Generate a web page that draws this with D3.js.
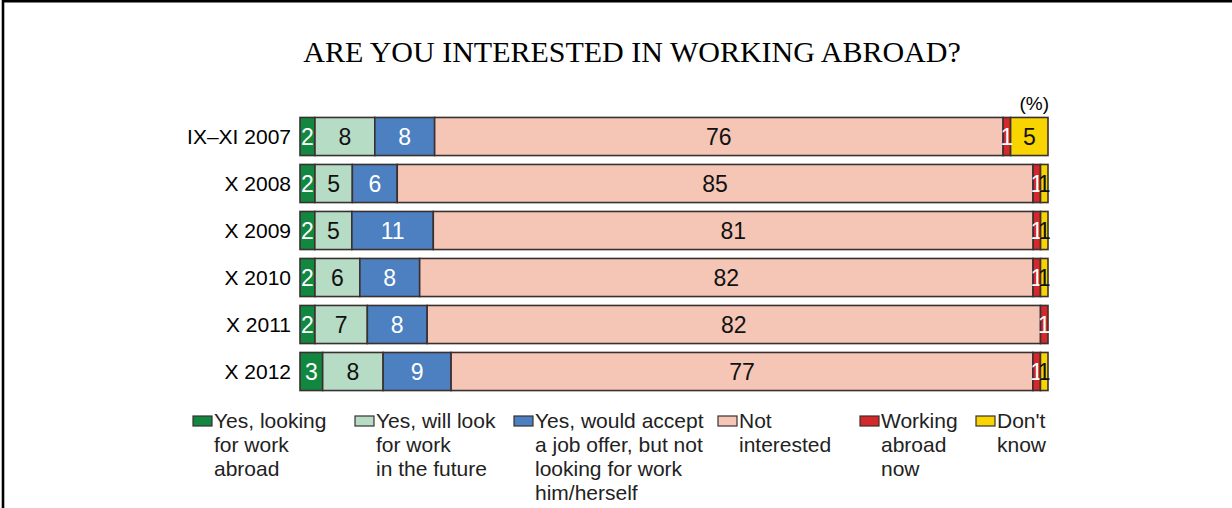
<!DOCTYPE html>
<html>
<head>
<meta charset="utf-8">
<script src="https://cdn.jsdelivr.net/npm/d3@7"></script>
<style>
  body { margin: 0; background: #fff; }
  svg text { font-family: "Liberation Sans", Arial, sans-serif; }
</style>
</head>
<body>
<div id="chart"></div>
<script>

// Chart size
const width = 1232;
const height = 508;

// Survey waves (rows)
const categories = ["IX\u2013XI 2007", "X 2008", "X 2009", "X 2010", "X 2011", "X 2012"];

// Answers (series), in stacking order
const seriesNames = ["looking", "future", "accept", "notInterested", "abroadNow", "dontKnow"];

// Values per series, one per wave (%)
const looking       = [2, 2, 2, 2, 2, 3];
const future        = [8, 5, 5, 6, 7, 8];
const accept        = [8, 6, 11, 8, 8, 9];
const notInterested = [76, 85, 81, 82, 82, 77];
const abroadNow     = [1, 1, 1, 1, 1, 1];
const dontKnow      = [5, 1, 1, 1, 0, 1];

// Legend text
const legendLabels = [
  ["Yes, looking", "for work", "abroad"],
  ["Yes, will look", "for work", "in the future"],
  ["Yes, would accept", "a job offer, but not", "looking for work", "him/herself"],
  ["Not", "interested"],
  ["Working", "abroad", "now"],
  ["Don't", "know"]
];

const colors = ["#11873f", "#b7dcc6", "#4c80c0", "#f5c6b6", "#d5282a", "#f8d400"];
const textColors = ["#fff", "#111", "#fff", "#111", "#fff", "#111"];

// Build rows for the stack
const table = categories.map((c, i) => ({
  cat: c,
  looking: looking[i],
  future: future[i],
  accept: accept[i],
  notInterested: notInterested[i],
  abroadNow: abroadNow[i],
  dontKnow: dontKnow[i]
}));

// Each bar is scaled to full width (rows don't always add to 100)
const stacked = d3.stack().keys(seriesNames)
  .offset(d3.stackOffsetExpand)(table);

const svg = d3.select("#chart")
  .append("svg")
  .attr("width", width)
  .attr("height", height);

// Frame (top and left edge)
svg.append("path")
  .attr("d", `M3,${height} V1.3 H${width}`)
  .attr("fill", "none")
  .attr("stroke", "#000")
  .attr("stroke-width", 2.6);

// Title
svg.append("text")
  .attr("x", 632)
  .attr("y", 62)
  .attr("text-anchor", "middle")
  .style("font-family", "'Liberation Serif', 'Times New Roman', serif")
  .style("font-size", "30px")
  .text("ARE YOU INTERESTED IN WORKING ABROAD?");

// Scales
const xScale = d3.scaleLinear()
  .domain([0, 1])
  .range([300, 1048]);

const yScale = d3.scaleBand()
  .domain(categories)
  .range([113, 395])
  .paddingInner(0.19)
  .paddingOuter(0.095);

// Unit sign
svg.append("text")
  .attr("x", 1049)
  .attr("y", 110)
  .attr("text-anchor", "end")
  .style("font-size", "19px")
  .text("(%)");

// Category labels
svg.append("g")
  .selectAll("text")
  .data(categories)
  .join("text")
    .attr("x", 291)
    .attr("y", d => yScale(d) + yScale.bandwidth() / 2)
    .attr("dy", "0.36em")
    .attr("text-anchor", "end")
    .style("font-size", "21px")
    .text(d => d);

// Bars
const groups = svg.append("g")
  .selectAll("g")
  .data(stacked)
  .join("g")
    .attr("fill", (d, i) => colors[i]);

groups.selectAll("rect")
  .data(d => d.filter(p => p[1] - p[0] > 0))
  .join("rect")
    .attr("x", d => xScale(d[0]))
    .attr("y", d => yScale(d.data.cat))
    .attr("width", d => xScale(d[1]) - xScale(d[0]))
    .attr("height", yScale.bandwidth())
    .attr("stroke", "#3a3030")
    .attr("stroke-width", 1.6);

// Value labels
stacked.forEach((s, i) => {
  svg.append("g")
    .selectAll("text")
    .data(s.filter(p => p.data[s.key] > 0))
    .join("text")
      .attr("x", d => (xScale(d[0]) + xScale(d[1])) / 2)
      .attr("y", d => yScale(d.data.cat) + yScale.bandwidth() / 2)
      .attr("dy", "0.36em")
      .attr("text-anchor", "middle")
      .attr("fill", textColors[i])
      .style("font-size", "23px")
      .text(d => d.data[s.key]);
});

// Legend
const legendX = [193, 355, 514, 718, 860, 976];
const legend = svg.append("g")
  .selectAll("g")
  .data(legendLabels)
  .join("g")
    .attr("transform", (d, i) => `translate(${legendX[i]}, 0)`);

legend.append("rect")
  .attr("x", 0)
  .attr("y", 416)
  .attr("width", 19)
  .attr("height", 10)
  .attr("fill", (d, i) => colors[i])
  .attr("stroke", "#3a3030")
  .attr("stroke-width", 1.2);

legend.append("text")
  .style("font-size", "21px")
  .attr("fill", "#222")
  .selectAll("tspan")
  .data(d => d)
  .join("tspan")
    .attr("x", 21)
    .attr("y", (d, j) => 428 + j * 24)
    .text(d => d);

</script>
</body>
</html>
